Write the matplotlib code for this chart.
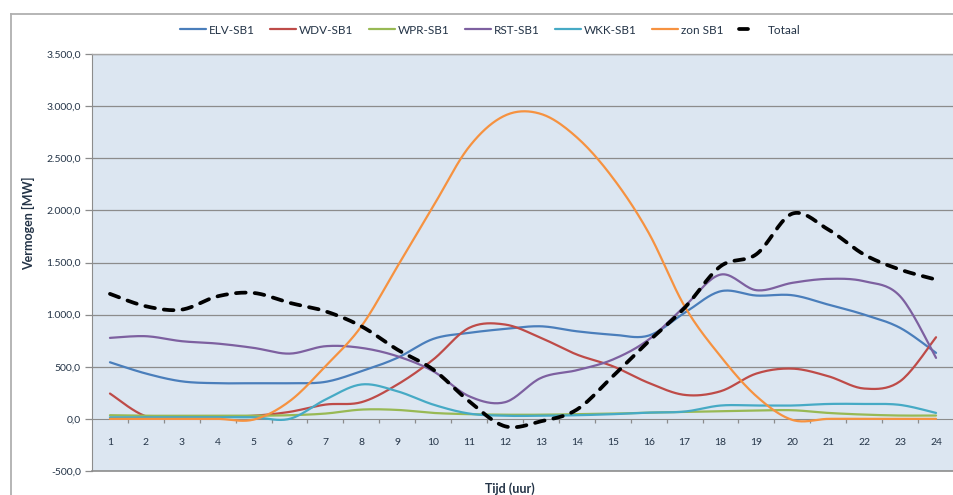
import numpy as np
import matplotlib
matplotlib.use("Agg")
import matplotlib.pyplot as plt
from matplotlib.lines import Line2D
from matplotlib.ticker import FixedLocator, FuncFormatter

plt.rcParams['font.family'] = ['Lato', 'DejaVu Sans']

hours = list(range(1, 25))
series_names = ["ELV-SB1", "WDV-SB1", "WPR-SB1", "RST-SB1", "WKK-SB1", "zon SB1", "Totaal"]

elv = [543, 435, 360, 342, 342, 342, 355, 457, 585, 767, 825, 863,
       888, 840, 808, 799, 1017, 1224, 1183, 1186, 1096, 1000, 873, 633]
wdv = [243, 25, 20, 20, 30, 67, 137, 160, 329, 569, 873, 905,
       777, 617, 505, 345, 230, 265, 435, 482, 409, 291, 361, 783]
wpr = [35, 30, 30, 30, 30, 35, 51, 89, 86, 57, 45, 40,
       40, 45, 50, 60, 67, 73, 80, 83, 57, 41, 32, 32]
rst = [777, 793, 745, 722, 681, 626, 697, 681, 601, 457, 217, 160,
       393, 467, 569, 761, 1080, 1384, 1234, 1305, 1343, 1320, 1176, 585]
wkk = [15, 15, 15, 15, 15, 0, 185, 330, 265, 137, 51, 30,
       30, 35, 45, 60, 70, 128, 128, 128, 143, 143, 134, 57]
zon = [0, 0, 0, 0, -7, 169, 505, 888, 1460, 2039, 2610, 2910,
       2925, 2700, 2312, 1784, 1080, 600, 217, -10, 0, 0, 0, 0]
totaal = [1199, 1080, 1048, 1176, 1208, 1113, 1032, 888, 665, 473, 169, -71,
          -23, 89, 409, 744, 1065, 1464, 1580, 1969, 1816, 1576, 1432, 1336]

colors = ["#4A7EBB", "#BE4B48", "#98B954", "#7D60A0", "#46AAC5", "#F69240", "#000000"]
text_color = "#243447"


def smooth(x, y, n=20):
    x = np.asarray(x, float)
    y = np.asarray(y, float)
    px = np.concatenate([[x[0]], x, [x[-1]]])
    py = np.concatenate([[y[0]], y, [y[-1]]])
    xs, ys = [], []
    t = np.linspace(0, 1, n, endpoint=False)
    for i in range(1, len(px) - 2):
        p0 = np.array([px[i], py[i]])
        p3 = np.array([px[i + 1], py[i + 1]])
        c1 = p0 + (np.array([px[i + 1], py[i + 1]]) - np.array([px[i - 1], py[i - 1]])) / 6.0
        c2 = p3 - (np.array([px[i + 2], py[i + 2]]) - np.array([px[i], py[i]])) / 6.0
        for tt in t:
            b = ((1 - tt) ** 3) * p0 + 3 * ((1 - tt) ** 2) * tt * c1 + 3 * (1 - tt) * tt ** 2 * c2 + tt ** 3 * p3
            xs.append(b[0]); ys.append(b[1])
    xs.append(x[-1]); ys.append(y[-1])
    return np.array(xs), np.array(ys)


fig = plt.figure(figsize=(9.54, 4.95), dpi=100)
ax = fig.add_axes([92 / 954, 1 - 471 / 495, 862 / 954, (471 - 54) / 495])
ax.set_facecolor("#DCE6F1")

handles = []
data = [elv, wdv, wpr, rst, wkk, zon]
for vals, c, name in zip(data, colors[:6], series_names[:6]):
    sx, sy = smooth(hours, vals)
    ln, = ax.plot(sx, sy, color=c, lw=1.6, label=name, solid_capstyle='round', zorder=3)
    handles.append(ln)
sx, sy = smooth(hours, totaal)
ax.plot(sx, sy, color="black", lw=2.7, dashes=(2.6, 2.4), dash_capstyle='round',
        label="Totaal", zorder=4)
handles.append(Line2D([], [], color="black", lw=2.7, dashes=(2.4, 8), dash_capstyle='round'))

ax.set_xlim(0.5, 24.5)
ax.set_ylim(-500, 3500)

# gridlines
for v in range(-500, 3501, 500):
    if v in (0, -500):
        continue
    ax.axhline(v, color="#8C8C8C", lw=0.9, zorder=1)

for s in ["top", "right"]:
    ax.spines[s].set_color("#A6A6A6")
    ax.spines[s].set_linewidth(1.0)
ax.spines["left"].set_color("#8C8C8C")
ax.spines["bottom"].set_color("#8C8C8C")
ax.spines["bottom"].set_position(("data", 0))
ax.axhline(-500, color="#8C8C8C", lw=1.2, zorder=2, clip_on=False)

ax.yaxis.set_major_locator(FixedLocator(list(range(-500, 3501, 500))))
ax.yaxis.set_major_formatter(FuncFormatter(
    lambda v, p: f"{v:,.1f}".replace(",", "X").replace(".", ",").replace("X", ".")))
ax.tick_params(axis="y", direction="out", length=5, width=0.9, color="#8C8C8C",
               labelsize=7.5, labelcolor=text_color, pad=3)

ax.xaxis.set_major_locator(FixedLocator(hours))
ax.xaxis.set_minor_locator(FixedLocator([h + 0.5 for h in hours[:-1]]))
ax.xaxis.set_major_formatter(FuncFormatter(lambda v, p: f"{int(v)}"))
ax.tick_params(axis="x", which="major", length=0, labelsize=7.5, labelcolor=text_color, pad=14)
ax.tick_params(axis="x", which="minor", direction="out", length=3, width=0.9, color="#8C8C8C")

fig.text(510 / 954, 1 - 489 / 495, "Tijd (uur)", ha="center", va="center",
         fontsize=9, fontweight="bold", color=text_color)
fig.text(29 / 954, 1 - 223 / 495, "Vermogen [MW]", ha="center", va="center",
         rotation=90, fontsize=9, fontweight="bold", color=text_color)

leg = fig.legend(handles, series_names, loc="center", bbox_to_anchor=(490 / 954, 1 - 30 / 495),
                 ncol=7, frameon=False, fontsize=8.5, handlelength=2.2,
                 columnspacing=1.3, handletextpad=0.25, labelcolor=text_color)

# chart outer border
fig.add_artist(Line2D([11 / 954, 11 / 954], [0, 1 - 14 / 495], transform=fig.transFigure,
                      color="#B0B0B0", lw=1.3))
fig.add_artist(Line2D([11 / 954, 1], [1 - 14 / 495, 1 - 14 / 495], transform=fig.transFigure,
                      color="#B0B0B0", lw=1.3))

fig.savefig("out.png", dpi=100, facecolor="white")
